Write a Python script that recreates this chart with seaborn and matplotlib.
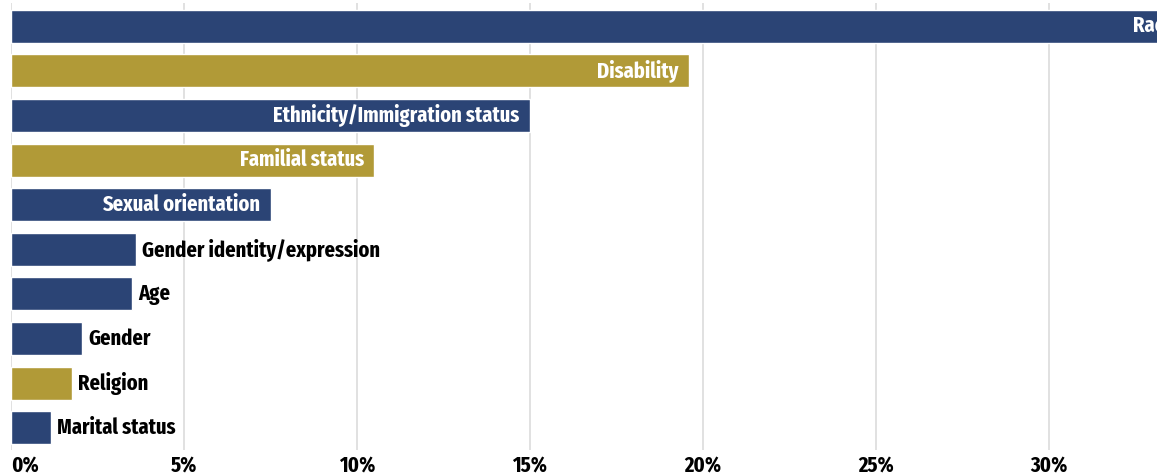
import matplotlib
matplotlib.use("Agg")
import matplotlib.pyplot as plt
import matplotlib.ticker as mticker
import seaborn as sns
import pandas as pd

# Share of complaints by ground of discrimination (%)
categories = [
    "Race", "Disability", "Ethnicity/Immigration status", "Familial status",
    "Sexual orientation", "Gender identity/expression", "Age", "Gender",
    "Religion", "Marital status",
]
values = [33.9, 19.6, 15.0, 10.5, 7.5, 3.6, 3.5, 2.05, 1.75, 1.15]
groups = ["navy", "gold", "navy", "gold", "navy", "navy", "navy", "navy", "gold", "navy"]
label_inside = [True, True, True, True, True, False, False, False, False, False]
x_ticks = [0, 5, 10, 15, 20, 25, 30]

NAVY = "#2b4475"
GOLD = "#b19a37"
group_colors = {"navy": NAVY, "gold": GOLD}

sns.set_theme(style="white")
plt.rcParams["font.family"] = ["Fira Sans Extra Condensed", "DejaVu Sans"]
LABEL_SIZE = 16

df = pd.DataFrame({"category": categories, "value": values, "group": groups})

fig = plt.figure(figsize=(11.57, 4.75), dpi=100)
ax = fig.add_axes([0.0095, 0.0526, 0.9905, 0.941])

sns.barplot(
    data=df, x="value", y="category", hue="group", palette=group_colors,
    order=categories, dodge=False, legend=False, width=0.74, saturation=1,
    ax=ax,
)

ax.set_xlim(0, 33.12)
ax.set_ylim(9.5, -0.52)
ax.set_xticks(x_ticks)
ax.xaxis.set_major_formatter(mticker.FuncFormatter(lambda v, _: f"{v:.0f}%"))
ax.grid(axis="x", color="#dcdcdc", linewidth=1.2)
ax.grid(axis="y", visible=False)
ax.set_axisbelow(True)
for s in ax.spines.values():
    s.set_visible(False)
ax.set_xlabel("")
ax.set_ylabel("")
ax.set_yticks([])
ax.tick_params(axis="x", length=0, pad=4, labelsize=LABEL_SIZE, labelcolor="black")
for lbl in ax.get_xticklabels():
    lbl.set_fontweight("bold")
ax.get_xticklabels()[0].set_horizontalalignment("left")

# Category names on or beside each bar
for i, (name, v, inside) in enumerate(zip(categories, values, label_inside)):
    if inside:
        ax.annotate(name, (v, i), xytext=(-7.5, 0), textcoords="offset points",
                    ha="right", va="center", color="white", fontsize=LABEL_SIZE,
                    fontweight="bold", annotation_clip=False)
    else:
        ax.annotate(name, (v, i), xytext=(4.5, 0), textcoords="offset points",
                    ha="left", va="center", color="black", fontsize=LABEL_SIZE,
                    fontweight="bold", annotation_clip=False)

fig.savefig("out.png", dpi=100)
